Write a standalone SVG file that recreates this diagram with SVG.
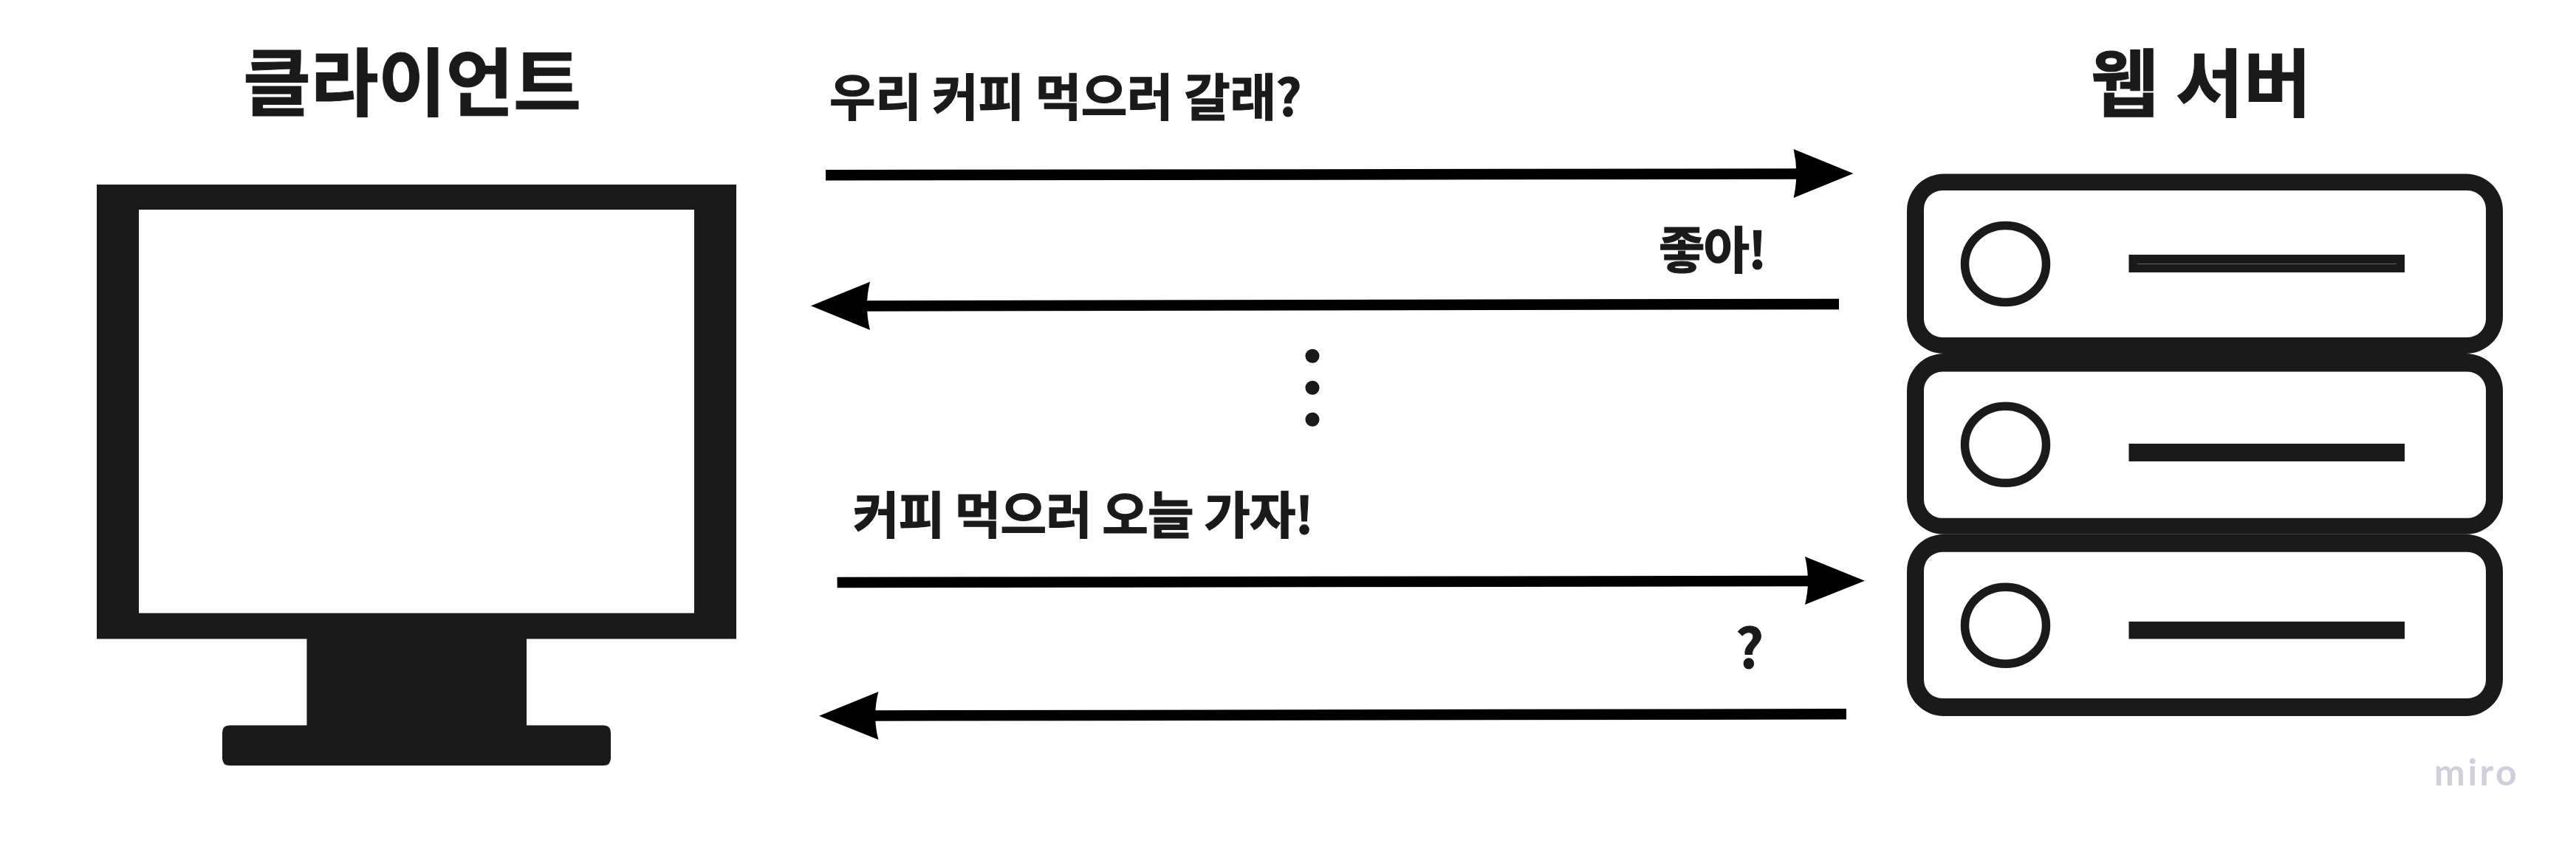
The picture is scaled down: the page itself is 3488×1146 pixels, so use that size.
<svg xmlns="http://www.w3.org/2000/svg" width="3488" height="1146" viewBox="0 0 3488 1146">
<style>
.t{font-family:"Noto Sans CJK KR","Noto Sans",sans-serif;font-weight:700;fill:#1a1a1a;stroke:#1a1a1a;stroke-width:1}
.h{font-size:100px}
.m{font-size:68px;stroke-width:1.2}
.ink{fill:#1a1a1a}
.ln{stroke:#000;stroke-width:14.5;fill:none}
.hd{fill:#000}
.ring{fill:none;stroke:#1a1a1a;stroke-width:11.5}
.shell{fill:#1a1a1a;fill-rule:evenodd}
</style>
<rect width="3488" height="1146" fill="#fff"/>
<g id="client">
<path class="ink" fill-rule="evenodd" d="M131 250H997V865.500H713V982.500H817Q827 982.500 827 992.500V1027Q827 1037 817 1037H311Q301 1037 301 1027V992.500Q301 982.500 311 982.500H415.400V865.500H131ZM188 284V830.400H940V284Z"/>
<text class="t h" x="329" y="149" letter-spacing="-0.5">클라이언트</text>
</g>
<g id="server">
<g id="server-1">
<path class="shell" d="M2632 235.400H3339A50 50 0 0 1 3389 285.400V429A50 50 0 0 1 3339 479H2632A50 50 0 0 1 2582 429V285.400A50 50 0 0 1 2632 235.400ZM2630 258A25 25 0 0 0 2605 283V432A25 25 0 0 0 2630 457H3341A25 25 0 0 0 3366 432V283A25 25 0 0 0 3341 258Z"/>
<ellipse class="ring" cx="2715.500" cy="357.500" rx="55" ry="52"/>
<rect class="ink" x="2882.500" y="345" width="373.500" height="24"/>
<rect x="2894" y="357" width="351" height="1" fill="#666"/>
</g>
<g id="server-2">
<path class="shell" d="M2632 479H3339A50 50 0 0 1 3389 529V673.700A50 50 0 0 1 3339 723.700H2632A50 50 0 0 1 2582 673.700V529A50 50 0 0 1 2632 479ZM2630 503.600A25 25 0 0 0 2605 528.600V676.800A25 25 0 0 0 2630 701.800H3341A25 25 0 0 0 3366 676.800V528.600A25 25 0 0 0 3341 503.600Z"/>
<ellipse class="ring" cx="2715.500" cy="602.300" rx="55" ry="52"/>
<rect class="ink" x="2882.500" y="601" width="373.500" height="24"/>
</g>
<g id="server-3">
<path class="shell" d="M2632 723.700H3339A50 50 0 0 1 3389 773.700V920A50 50 0 0 1 3339 970H2632A50 50 0 0 1 2582 920V773.700A50 50 0 0 1 2632 723.700ZM2630 747.800A25 25 0 0 0 2605 772.800V921A25 25 0 0 0 2630 946H3341A25 25 0 0 0 3366 921V772.800A25 25 0 0 0 3341 747.800Z"/>
<ellipse class="ring" cx="2715.500" cy="847.200" rx="55" ry="52"/>
<rect class="ink" x="2882.500" y="842" width="373.500" height="23.500"/>
</g>
<text class="t h" x="2831" y="150">웹 서버</text>
</g>
<g id="connectors">
<line class="ln" x1="1118" y1="237.300" x2="2436" y2="235.500"/>
<path class="hd" d="M2509.500 235L2428.600 202Q2436 235 2428.600 268Z"/>
<line class="ln" x1="2490" y1="412" x2="1172" y2="414.400"/>
<path class="hd" d="M1098 414.300L1178 381.700Q1170 414 1178 447Z"/>
<line class="ln" x1="1133.600" y1="789" x2="2452" y2="787"/>
<path class="hd" d="M2525 786.700L2444 754Q2452 787 2444 819Z"/>
<line class="ln" x1="2500" y1="967.300" x2="1182" y2="969.500"/>
<path class="hd" d="M1109 969.700L1189.400 937Q1181 970 1189.400 1002Z"/>
</g>
<g id="labels">
<text class="t m" x="1123" y="157" letter-spacing="-0.4">우리 커피 먹으러 갈래?</text>
<text class="t m" x="2246" y="364" letter-spacing="-2">좋아!</text>
<text class="t m" x="1155" y="723" letter-spacing="-0.9">커피 먹으러 오늘 가자!</text>
<text class="t" x="2350" y="905" style="font-size:74px">?</text>
</g>
<g id="ellipsis">
<circle class="ink" cx="1777" cy="482.300" r="9.500"/>
<circle class="ink" cx="1777" cy="525.300" r="9.500"/>
<circle class="ink" cx="1777" cy="568.300" r="9.500"/>
</g>
<text id="watermark" x="3296" y="1064" font-family="Lato,sans-serif" font-weight="700" font-size="50" letter-spacing="3.500" fill="#d0d0dd">miro</text>
</svg>
